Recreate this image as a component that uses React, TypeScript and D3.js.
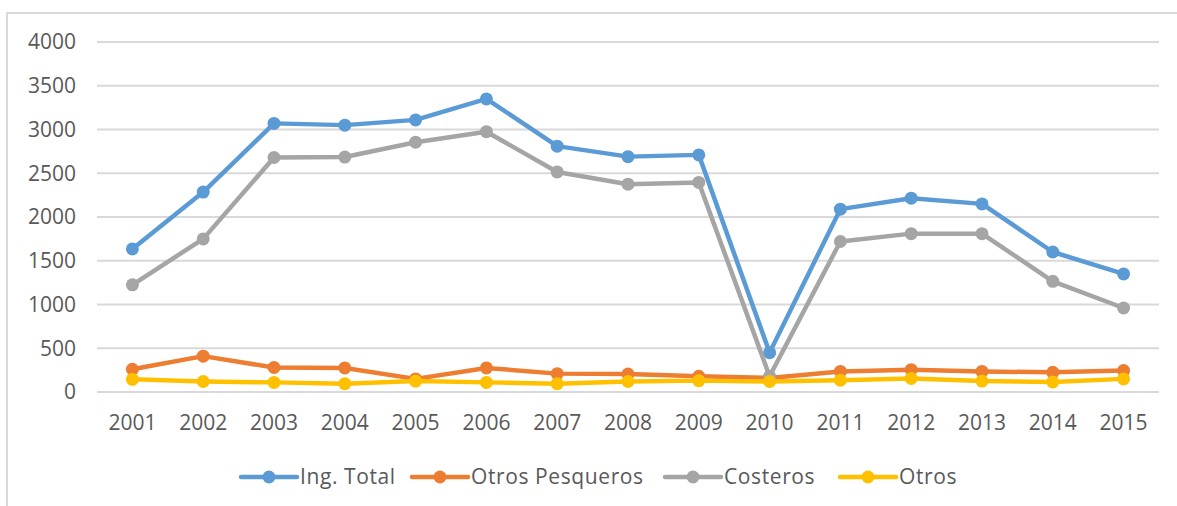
import { useEffect } from 'react'
import * as d3 from 'd3'

const years = ['2001', '2002', '2003', '2004', '2005', '2006', '2007', '2008', '2009', '2010', '2011', '2012', '2013', '2014', '2015']

const ingTotal = [1635, 2285, 3070, 3050, 3110, 3350, 2810, 2690, 2710, 450, 2090, 2215, 2150, 1600, 1350]
const otrosPesqueros = [260, 410, 280, 275, 150, 275, 210, 205, 180, 160, 235, 255, 235, 225, 245]
const costeros = [1225, 1750, 2680, 2685, 2855, 2975, 2515, 2375, 2395, 180, 1720, 1810, 1810, 1265, 960]
const otros = [145, 120, 110, 95, 125, 110, 95, 120, 130, 120, 135, 155, 125, 115, 150]

const yTicks = [0, 500, 1000, 1500, 2000, 2500, 3000, 3500, 4000]

const series = [
  { name: 'Ing. Total', values: ingTotal, color: '#5B9BD5' },
  { name: 'Otros Pesqueros', values: otrosPesqueros, color: '#ED7D31' },
  { name: 'Costeros', values: costeros, color: '#A5A5A5' },
  { name: 'Otros', values: otros, color: '#FFC000' },
]

const WIDTH = 1177
const HEIGHT = 506
const FONT = '"Open Sans", "Liberation Sans", sans-serif'

export default function App() {
  useEffect(() => {
    document.body.style.margin = '0'
  }, [])

  // plot area
  const left = 97
  const right = 1159
  const top = 42
  const bottom = 392

  const x = d3.scaleBand<string>().domain(years).range([left, right])
  const y = d3.scaleLinear().domain([0, 4000]).range([bottom, top])

  const line = d3.line<number>()
    .x((_, i) => x(years[i])! + x.bandwidth() / 2)
    .y(d => y(d))

  // legend layout (x of each line start)
  const legendX = [241, 412, 665, 840]
  const legendY = 477

  return (
    <svg width={WIDTH} height={HEIGHT} style={{ display: 'block', background: '#fff' }} fontFamily={FONT}>
      {/* chart border */}
      <rect x={7} y={13} width={WIDTH} height={HEIGHT} fill="none" stroke="#D9D9D9" strokeWidth={2} />

      {/* gridlines */}
      {yTicks.map(t => (
        <line key={t} x1={left} x2={right} y1={y(t)} y2={y(t)} stroke="#D9D9D9" strokeWidth={2} />
      ))}

      {/* y labels */}
      {yTicks.map(t => (
        <text key={t} x={76} y={y(t)} dy="0.35em" textAnchor="end" fontSize={21} fill="#595959">{t}</text>
      ))}

      {/* x labels */}
      {years.map(yr => (
        <text key={yr} x={x(yr)! + x.bandwidth() / 2} y={430} textAnchor="middle" fontSize={21} fill="#595959">{yr}</text>
      ))}

      {/* series */}
      {series.map(s => (
        <g key={s.name}>
          <path d={line(s.values)!} fill="none" stroke={s.color} strokeWidth={4.5} strokeLinejoin="round" />
          {s.values.map((v, i) => (
            <circle key={i} cx={x(years[i])! + x.bandwidth() / 2} cy={y(v)} r={6.5} fill={s.color} />
          ))}
        </g>
      ))}

      {/* legend */}
      {series.map((s, i) => (
        <g key={s.name} transform={`translate(${legendX[i]},${legendY})`}>
          <line x1={0} x2={56} y1={0} y2={0} stroke={s.color} strokeWidth={4.5} strokeLinecap="round" />
          <circle cx={28} cy={0} r={6.5} fill={s.color} />
          <text x={59} y={0} dy="0.35em" fontSize={21} letterSpacing={0.6} fill="#595959">{s.name}</text>
        </g>
      ))}
    </svg>
  )
}
